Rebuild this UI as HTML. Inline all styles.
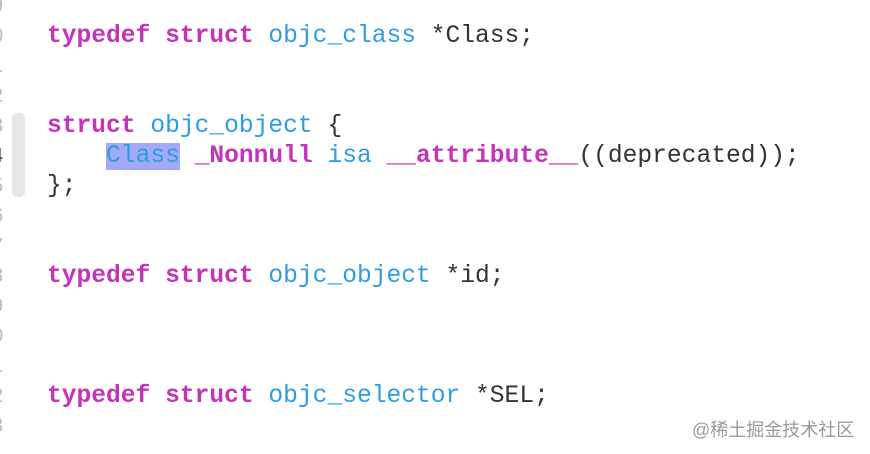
<!DOCTYPE html>
<html><head><meta charset="utf-8"><style>
html,body{margin:0;padding:0;background:#fff;width:870px;height:454px;overflow:hidden;position:relative}
.l{position:absolute;left:47px;height:30px;line-height:30px;font-family:"Liberation Mono",monospace;font-size:24.6px;color:#333;white-space:pre}
.k{color:#c433b9;font-weight:bold}
.b{color:#2d9de3}
.hl{background:#a3a9f5}
.g{position:absolute;left:-8px;font-family:"Liberation Sans",sans-serif;font-size:20px;color:#bbb;height:30px;line-height:30px}
.bar{position:absolute;left:12px;top:113px;width:13px;height:84px;background:#e6e6e6;border-radius:5px}
.wm{position:absolute;left:692px;top:416px;font-family:"Liberation Sans","Noto Sans CJK SC",sans-serif;font-size:18px;color:#9a9a9a}
</style></head><body>
<div class="g" style="top:-9px">9</div>
<div class="g" style="top:21px">0</div>
<div class="g" style="top:51px">1</div>
<div class="g" style="top:81px">2</div>
<div class="g" style="top:111px">3</div>
<div class="g" style="top:141px;color:#333">4</div>
<div class="g" style="top:171px">5</div>
<div class="g" style="top:201px">6</div>
<div class="g" style="top:231px">7</div>
<div class="g" style="top:261px">8</div>
<div class="g" style="top:291px">9</div>
<div class="g" style="top:321px">0</div>
<div class="g" style="top:351px">1</div>
<div class="g" style="top:381px">2</div>
<div class="g" style="top:411px">3</div>
<div class="bar"></div>
<div class="l" style="top:22px"><span class="k">typedef</span> <span class="k">struct</span> <span class="b">objc_class</span> *Class;</div>
<div class="l" style="top:112px"><span class="k">struct</span> <span class="b">objc_object</span> {</div>
<div class="l" style="top:142px">    <span class="b hl">Class</span> <span class="k">_Nonnull</span> <span class="b">isa</span> <span class="k">__attribute__</span>((deprecated));</div>
<div class="l" style="top:172px">};</div>
<div class="l" style="top:262px"><span class="k">typedef</span> <span class="k">struct</span> <span class="b">objc_object</span> *id;</div>
<div class="l" style="top:382px"><span class="k">typedef</span> <span class="k">struct</span> <span class="b">objc_selector</span> *SEL;</div>
<div class="wm">@稀土掘金技术社区</div>
</body></html>
